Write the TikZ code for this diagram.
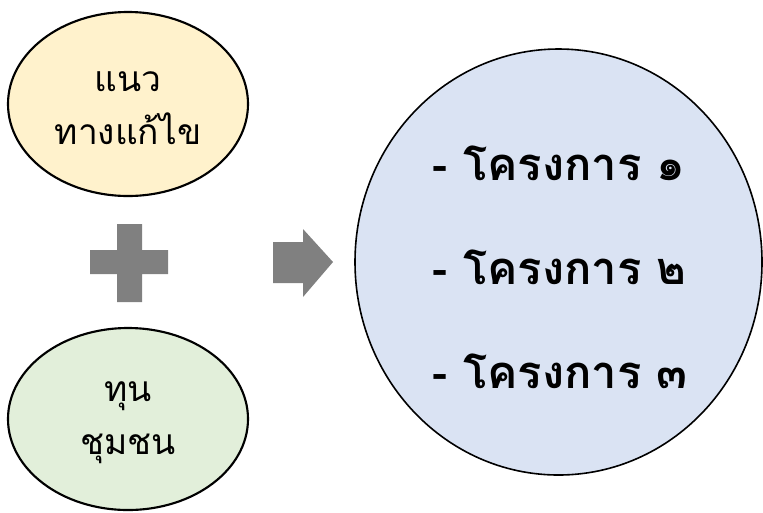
\documentclass[tikz,border=0pt]{standalone}
\usepackage{fontspec}
\newfontfamily\thaifont[Script=Thai]{Loma}
\usetikzlibrary{shapes.geometric}
\definecolor{yel}{HTML}{FFF2CC}
\definecolor{grn}{HTML}{E2EFDA}
\definecolor{blu}{HTML}{DAE3F3}
\definecolor{gry}{HTML}{808080}
\tikzset{
  oval/.style={ellipse, draw=black, line width=1.6pt, inner sep=0pt, align=center},
  lefttext/.style={font=\thaifont\fontsize{26.5}{40}\selectfont},
  righttext/.style={font=\thaifont\bfseries\fontsize{34}{58}\selectfont},
  symb/.style={fill=gry, draw=none}
}
\begin{document}
\begin{tikzpicture}[x=0.75pt,y=-0.75pt]
\useasboundingbox (0,0) rectangle (763,512);
\node[oval, fill=yel, minimum width=240*0.75pt, minimum height=184*0.75pt] (sol) at (128,104) {};
\node[lefttext, align=center] (soltxt) at (128,108) {แนว\\ทางแก้ไข};
\node[oval, fill=grn, minimum width=240*0.75pt, minimum height=182*0.75pt] (cap) at (128,419) {};
\node[lefttext, align=center] (captxt) at (128,423) {ทุน\\ชุมชน};
\fill[symb] (90,250) -- (117,250) -- (117,224) -- (142,224) -- (142,250) -- (168,250) -- (168,274) -- (142,274) -- (142,302) -- (117,302) -- (117,274) -- (90,274) -- cycle;
\fill[symb] (273,242) -- (303,242) -- (303,229) -- (333,262) -- (303,297) -- (303,283) -- (273,283) -- cycle;
\node[oval, fill=blu, line width=1.2pt, minimum width=407*0.75pt, minimum height=426*0.75pt] (proj) at (558.5,262) {};
\node[righttext, anchor=west] (p1) at (428,163) {- โครงการ ๑};
\node[righttext, anchor=west] (p2) at (428,267) {- โครงการ ๒};
\node[righttext, anchor=west] (p3) at (428,371) {- โครงการ ๓};
\end{tikzpicture}
\end{document}
